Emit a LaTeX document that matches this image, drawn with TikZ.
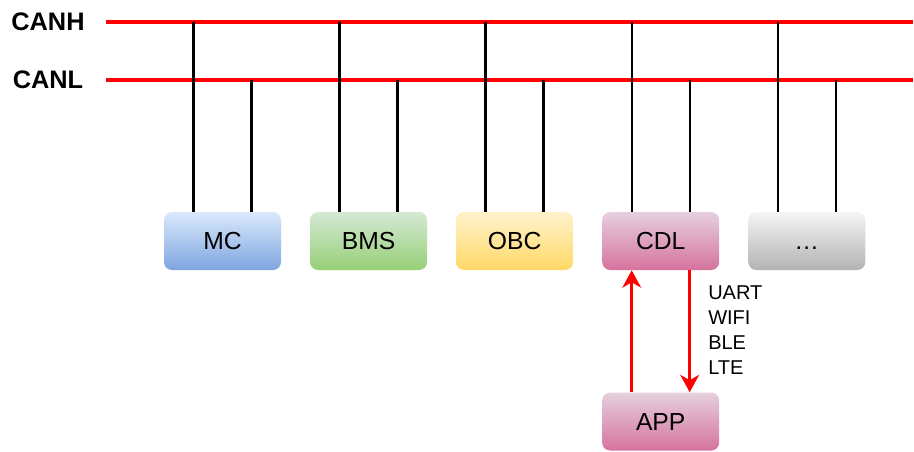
\documentclass[tikz,border=0pt]{standalone}
\usepackage{fontspec}
\setmainfont{Liberation Sans}
\usetikzlibrary{positioning,arrows.meta}

\definecolor{mctop}{HTML}{DAE8FC}
\definecolor{mcbot}{HTML}{7EA6E0}
\definecolor{bmstop}{HTML}{D5E8D4}
\definecolor{bmsbot}{HTML}{97D077}
\definecolor{obctop}{HTML}{FFF2CC}
\definecolor{obcbot}{HTML}{FFD966}
\definecolor{cdltop}{HTML}{E6D0DE}
\definecolor{cdlbot}{HTML}{D5739D}
\definecolor{moretop}{HTML}{F5F5F5}
\definecolor{morebot}{HTML}{B3B3B3}

\begin{document}
\begin{tikzpicture}[
    x=0.75pt, y=-0.75pt,
    node distance=21.4pt,
    ecu/.style={rectangle, rounded corners=6pt, inner sep=0pt, minimum width=87.75pt, minimum height=43.5pt, text height=13.2pt, text depth=0pt, font=\fontsize{18.5pt}{22pt}\selectfont},
    buslabel/.style={font=\fontsize{19pt}{22pt}\selectfont\bfseries},
    bus/.style={red, line width=2.4pt},
    stub/.style={black, line width=1.8pt},
    link/.style={red, line width=2.4pt, -{Stealth[length=13pt, width=14pt, inset=4pt]}}
]
    \useasboundingbox (0,0) rectangle (914,451);

    % Bus
    \node[buslabel] (canhlbl) at (48,22) {CANH};
    \node[buslabel] (canllbl) at (48,80) {CANL};
    \coordinate (canh) at (106,22);
    \coordinate (canhend) at (913,22);
    \coordinate (canl) at (106,80);
    \coordinate (canlend) at (913,80);
    \draw[bus] (canh) -- (canhend);
    \draw[bus] (canl) -- (canlend);

    % Blocks
    \node[ecu, top color=mctop, bottom color=mcbot] (mc) at (222.5,241) {MC};
    \node[ecu, top color=bmstop, bottom color=bmsbot, right=of mc] (bms) {BMS};
    \node[ecu, top color=obctop, bottom color=obcbot, right=of bms] (obc) {OBC};
    \node[ecu, top color=cdltop, bottom color=cdlbot, right=of obc] (cdl) {CDL};
    \node[ecu, top color=moretop, bottom color=morebot, right=of cdl] (more) {…};
    \node[ecu, top color=cdltop, bottom color=cdlbot, below=91.5pt of cdl] (app) {APP};

    % Stubs
    \foreach \n in {mc,bms,obc,cdl,more} {
        \draw[stub] ([xshift=-21.75pt]\n.north) -- ([xshift=-21.75pt]\n.north |- canh);
        \draw[stub] ([xshift=21.75pt]\n.north) -- ([xshift=21.75pt]\n.north |- canl);
    }

    % Arrows
    \draw[link] ([xshift=-21.75pt]app.north) -- ([xshift=-21.75pt]cdl.south);
    \draw[link] ([xshift=21.75pt]cdl.south) -- ([xshift=21.75pt]app.north);
    \node[anchor=north west, inner sep=0pt, align=left, font=\fontsize{15pt}{18.75pt}\selectfont] (links) at (708,285) {UART\\WIFI\\BLE\\LTE};
\end{tikzpicture}
\end{document}
